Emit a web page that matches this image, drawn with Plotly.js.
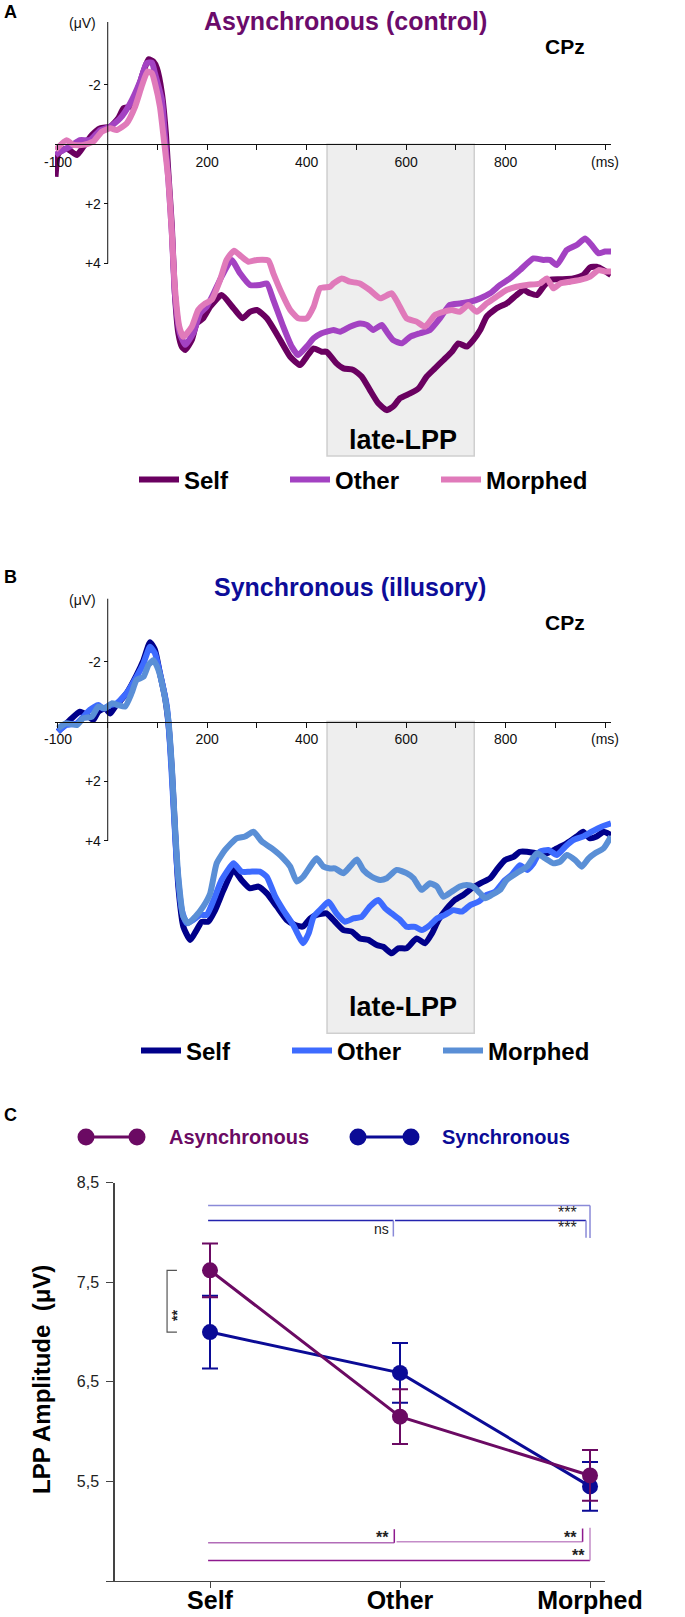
<!DOCTYPE html>
<html>
<head>
<meta charset="utf-8">
<script src="https://cdn.plot.ly/plotly-3.0.1.min.js"></script>
<style>
  html, body { margin: 0; padding: 0; background: #fff; }
  #chart { width: 685px; height: 1617px; }
</style>
</head>
<body>
<div id="chart"></div>
<script>
// ==================== DATA ====================

// Panel A - Asynchronous (control), CPz. Time in ms, amplitude in µV (negative up)
const asyncSelfT = [-105, -99, -83, -62, -49, -32, -15, 5, 21, 32, 45, 62, 72, 82, 92, 99, 109, 117, 122, 129, 135, 142, 149, 156, 169, 179, 192, 206, 229, 253, 271, 286, 300, 320, 347, 367, 387, 400, 414, 430, 440, 460, 474, 494, 511, 527, 544, 561, 574, 588, 608, 625, 641, 658, 675, 692, 705, 722, 735, 749, 762, 782, 802, 822, 836, 849, 863, 876, 889, 910, 936, 956, 970, 983, 997, 1012];
const asyncSelfV = [1.09, 0.30, 0.14, 0.36, 0.08, -0.31, -0.54, -0.59, -0.87, -1.21, -1.26, -1.93, -2.44, -2.85, -2.77, -2.55, -1.71, -0.37, 0.97, 2.76, 5.00, 6.34, 6.79, 6.90, 6.57, 6.01, 5.84, 5.45, 5.06, 5.50, 5.84, 5.62, 5.56, 5.84, 6.57, 7.13, 7.41, 7.13, 6.85, 6.96, 6.96, 7.35, 7.52, 7.57, 7.80, 8.24, 8.69, 8.92, 8.80, 8.52, 8.36, 8.19, 7.80, 7.52, 7.24, 6.96, 6.68, 6.79, 6.57, 6.23, 5.78, 5.50, 5.34, 5.06, 4.89, 5.00, 5.06, 4.78, 4.55, 4.53, 4.50, 4.39, 4.13, 4.11, 4.22, 4.39];

const asyncOtherT = [-105, -96, -76, -56, -36, -15, 5, 25, 45, 65, 78, 89, 95, 109, 115, 122, 129, 135, 145, 156, 172, 186, 199, 213, 229, 249, 266, 286, 306, 320, 333, 353, 370, 383, 400, 414, 430, 440, 454, 467, 487, 507, 521, 534, 551, 561, 574, 591, 608, 628, 648, 668, 688, 708, 729, 749, 769, 789, 809, 829, 856, 876, 889, 903, 923, 943, 960, 973, 987, 1000, 1012];
const asyncOtherV = [0.36, 0.25, 0.08, -0.14, -0.14, -0.48, -0.59, -0.87, -1.37, -2.10, -2.72, -2.74, -2.38, -1.49, -0.26, 1.20, 2.99, 5.00, 6.34, 6.73, 6.34, 5.67, 5.45, 5.00, 4.44, 3.88, 4.33, 4.72, 4.72, 4.67, 5.22, 6.12, 6.79, 7.07, 6.79, 6.51, 6.34, 6.29, 6.23, 6.29, 6.12, 6.01, 6.06, 6.23, 6.06, 6.29, 6.57, 6.68, 6.46, 6.34, 6.23, 5.84, 5.39, 5.34, 5.28, 5.17, 5.00, 4.72, 4.50, 4.22, 3.83, 3.88, 3.88, 4.05, 3.55, 3.38, 3.16, 3.38, 3.66, 3.60, 3.60];

const asyncMorphT = [-105, -83, -69, -49, -29, -12, 5, 18, 38, 55, 68, 80, 89, 95, 105, 113, 122, 129, 135, 144, 152, 169, 182, 196, 209, 226, 239, 254, 269, 283, 300, 323, 333, 350, 367, 383, 400, 414, 427, 447, 454, 471, 487, 507, 527, 548, 571, 584, 601, 621, 638, 658, 675, 692, 708, 725, 742, 762, 782, 802, 822, 843, 869, 883, 896, 910, 930, 950, 970, 987, 1000, 1012];
const asyncMorphV = [0.19, -0.14, 0.02, 0.02, -0.09, -0.42, -0.54, -0.48, -0.70, -1.26, -1.93, -2.44, -2.38, -2.05, -1.26, -0.14, 1.20, 2.99, 4.78, 6.12, 6.46, 6.12, 5.56, 5.34, 5.22, 4.55, 3.88, 3.57, 3.77, 3.94, 3.88, 3.90, 4.33, 5.00, 5.56, 5.84, 5.84, 5.45, 4.83, 4.78, 4.67, 4.50, 4.61, 4.67, 4.89, 5.17, 5.00, 5.34, 5.84, 5.95, 6.12, 5.73, 5.62, 5.56, 5.62, 5.39, 5.62, 5.34, 5.11, 4.89, 4.78, 4.72, 4.67, 4.50, 4.83, 4.67, 4.61, 4.55, 4.44, 4.22, 4.27, 4.27];

// Panel B - Synchronous (illusory), CPz
const syncSelfT = [-100, -76, -56, -42, -29, -19, -5, 5, 15, 38, 58, 72, 85, 95, 105, 115, 122, 129, 135, 142, 152, 166, 179, 189, 202, 216, 233, 253, 269, 286, 303, 320, 340, 360, 377, 393, 407, 420, 440, 457, 474, 491, 507, 524, 541, 554, 571, 584, 601, 621, 638, 652, 665, 682, 698, 715, 732, 749, 769, 782, 799, 816, 829, 843, 863, 883, 903, 923, 943, 956, 970, 983, 997, 1012];
const syncSelfV = [0.34, -0.05, -0.33, -0.22, -0.05, -0.33, -0.44, -0.27, -0.50, -0.95, -1.56, -2.06, -2.66, -2.40, -1.62, -0.83, 0.06, 1.63, 3.53, 5.54, 6.88, 7.33, 6.99, 6.72, 6.72, 6.33, 5.65, 4.98, 5.32, 5.60, 5.54, 5.77, 6.21, 6.66, 6.83, 6.88, 6.61, 6.49, 6.44, 6.72, 7.00, 7.05, 7.28, 7.33, 7.50, 7.56, 7.78, 7.61, 7.61, 7.28, 7.44, 7.11, 6.66, 6.27, 5.99, 5.82, 5.60, 5.43, 5.26, 4.98, 4.65, 4.54, 4.37, 4.37, 4.42, 4.42, 4.26, 4.09, 3.86, 3.70, 3.92, 3.86, 3.70, 3.81];

const syncOtherT = [-100, -83, -62, -49, -36, -19, -9, 5, 18, 38, 58, 72, 85, 95, 105, 119, 125, 132, 139, 149, 159, 172, 186, 199, 213, 229, 253, 269, 286, 306, 320, 337, 353, 373, 383, 393, 404, 414, 430, 444, 460, 477, 494, 511, 527, 544, 558, 571, 588, 601, 618, 631, 648, 662, 678, 695, 712, 729, 745, 762, 779, 796, 812, 829, 843, 856, 869, 886, 903, 920, 936, 956, 973, 993, 1012];
const syncOtherV = [0.34, 0.12, 0.06, -0.16, -0.39, -0.55, -0.44, -0.55, -0.61, -0.95, -1.50, -1.95, -2.51, -2.29, -1.62, -0.50, 0.73, 2.75, 4.76, 6.33, 6.77, 6.66, 6.49, 6.49, 5.99, 5.32, 4.76, 5.04, 5.04, 5.04, 5.21, 5.88, 6.33, 6.83, 7.16, 7.44, 7.11, 6.55, 6.27, 6.05, 6.44, 6.72, 6.61, 6.55, 6.21, 5.99, 6.27, 6.44, 6.66, 6.89, 6.89, 7.00, 6.83, 6.61, 6.49, 6.33, 6.38, 6.16, 6.05, 5.82, 5.71, 5.37, 5.15, 4.82, 4.98, 4.76, 4.37, 4.31, 4.48, 4.20, 3.98, 3.86, 3.70, 3.53, 3.42];

const syncMorphT = [-100, -83, -62, -49, -32, -19, -5, 8, 21, 35, 48, 58, 72, 82, 92, 102, 112, 122, 129, 135, 142, 152, 162, 176, 192, 206, 219, 236, 259, 276, 293, 310, 330, 353, 367, 380, 393, 407, 420, 434, 447, 457, 474, 487, 501, 514, 531, 548, 561, 581, 601, 615, 631, 648, 662, 675, 692, 708, 722, 735, 749, 759, 772, 789, 802, 822, 843, 863, 879, 896, 910, 923, 940, 953, 967, 980, 997, 1012];
const syncMorphV = [0.23, 0.06, 0.12, -0.11, -0.16, -0.50, -0.44, -0.61, -0.55, -0.50, -0.95, -1.39, -1.50, -1.90, -2.06, -1.73, -1.06, -0.05, 1.52, 3.42, 5.21, 6.55, 6.77, 6.55, 6.21, 5.77, 4.76, 4.31, 3.92, 3.86, 3.70, 4.03, 4.26, 4.59, 4.87, 5.37, 5.21, 4.87, 4.59, 4.87, 4.93, 4.93, 5.09, 4.87, 4.63, 4.98, 5.21, 5.32, 5.26, 4.98, 5.09, 5.26, 5.65, 5.43, 5.54, 5.88, 5.71, 5.54, 5.49, 5.54, 5.77, 5.93, 5.82, 5.65, 5.32, 5.09, 4.87, 4.42, 4.59, 4.76, 4.70, 4.48, 4.65, 4.87, 4.59, 4.42, 4.26, 3.86];

// late-LPP window (ms)
const lppWindow = [441, 737];

// ERP axis ticks
const erpTickVals = [-100, 0, 100, 200, 300, 400, 500, 600, 700, 800, 900, 1000];
const erpTickText = ['-100', '', '', '200', '', '400', '', '600', '', '800', '', '(ms)'];
const ampTickVals = [-2, 2, 4];
const ampTickText = ['-2', '+2', '+4'];

// Panel C - mean LPP amplitude (µV) with error bars
const conditions = ['Self', 'Other', 'Morphed'];
const asyncLpp = [7.62, 6.15, 5.56];
const asyncErr = [0.27, 0.275, 0.255];
const syncLpp = [7.00, 6.59, 5.45];
const syncErr = [0.365, 0.30, 0.245];
const lppTickVals = [4.5, 5.5, 6.5, 7.5, 8.5];
const lppTickText = ['', '5,5', '6,5', '7,5', '8,5'];

// ==================== COLOURS / HELPERS ====================

const FONT = 'Liberation Sans, Arial, sans-serif';
const W = 685, H = 1617;
const px = p => p / W;          // pixel -> paper x
const py = p => 1 - p / H;      // pixel -> paper y

const colAsync = { self: '#6A0060', other: '#A342C2', morph: '#E07ABA' };
const colSync = { self: '#00008A', other: '#3D6BFF', morph: '#5A8FD6' };
const purple = '#6B0A63';
const navy = '#0B0B96';

// ERP panel geometry (pixels)
const erpLeft = 55, erpRight = 611, erpRange = [-106, 1012];
const pxPerUv = 29.8;
const zeroX = erpLeft + (0 - erpRange[0]) * (erpRight - erpLeft) / (erpRange[1] - erpRange[0]);

function erpTrace(t, v, name, color, xa, ya, legend) {
  return {
    type: 'scatter', mode: 'lines', x: t, y: v, name: '<b>' + name + '</b>',
    xaxis: xa, yaxis: ya, legend: legend,
    line: { color: color, width: 6, shape: 'spline', smoothing: 0.5 },
    hoverinfo: 'skip'
  };
}

function erpXAxis(zeroPx) {
  return {
    domain: [px(erpLeft), px(erpRight)], range: erpRange,
    anchor: 'free', position: py(zeroPx),
    showline: true, linecolor: '#111', linewidth: 1,
    ticks: 'outside', ticklen: 5, tickcolor: '#111',
    tickvals: erpTickVals, ticktext: erpTickText,
    tickfont: { family: FONT, size: 14, color: '#111' },
    showgrid: false, zeroline: false, fixedrange: true
  };
}

function erpYAxis(topPx, bottomPx, zeroPx) {
  return {
    domain: [py(bottomPx), py(topPx)],
    range: [(bottomPx - zeroPx) / pxPerUv, (topPx - zeroPx) / pxPerUv],
    anchor: 'free', position: px(zeroX),
    showline: false, ticks: 'outside', ticklen: 4, tickcolor: '#111',
    tickvals: ampTickVals, ticktext: ampTickText,
    tickfont: { family: FONT, size: 14, color: '#111' },
    showgrid: false, zeroline: false, fixedrange: true
  };
}

function erpLegend(xPx, yPx) {
  return {
    x: px(xPx), y: py(yPx), xanchor: 'left', yanchor: 'middle',
    orientation: 'h', bgcolor: 'rgba(0,0,0,0)',
    itemwidth: 40, entrywidth: 96, entrywidthmode: 'pixels',
    font: { family: FONT, size: 24, color: '#000' }
  };
}

function text(str, xPx, yPx, size, color, opts) {
  return Object.assign({
    text: str, x: px(xPx), y: py(yPx), xref: 'paper', yref: 'paper',
    showarrow: false, xanchor: 'center', yanchor: 'middle',
    font: { family: FONT, size: size, color: color }
  }, opts || {});
}

// ==================== TRACES ====================

const data = [
  erpTrace(asyncSelfT, asyncSelfV, 'Self', colAsync.self, 'x', 'y', 'legend'),
  erpTrace(asyncOtherT, asyncOtherV, 'Other', colAsync.other, 'x', 'y', 'legend'),
  erpTrace(asyncMorphT, asyncMorphV, 'Morphed', colAsync.morph, 'x', 'y', 'legend'),
  erpTrace(syncSelfT, syncSelfV, 'Self', colSync.self, 'x2', 'y2', 'legend2'),
  erpTrace(syncOtherT, syncOtherV, 'Other', colSync.other, 'x2', 'y2', 'legend2'),
  erpTrace(syncMorphT, syncMorphV, 'Morphed', colSync.morph, 'x2', 'y2', 'legend2')
];

const condIdx = conditions.map((c, i) => i);
[[syncLpp, syncErr, navy, 'Synchronous'], [asyncLpp, asyncErr, purple, 'Asynchronous']].forEach(s => {
  data.push({
    type: 'scatter', mode: 'lines+markers', x: condIdx, y: s[0], name: s[3],
    xaxis: 'x3', yaxis: 'y3', showlegend: false, hoverinfo: 'skip',
    line: { color: s[2], width: 3 },
    marker: { color: s[2], size: 16 },
    error_y: { type: 'data', array: s[1], color: s[2], thickness: 2, width: 8 }
  });
});

// ==================== SHAPES ====================

const shapes = [];
[['x', 'y'], ['x2', 'y2']].forEach(a => {
  // late-LPP window
  shapes.push({ type: 'rect', xref: a[0], yref: a[1], x0: lppWindow[0], x1: lppWindow[1], y0: 0, y1: 10.46,
    fillcolor: '#EEEEEE', line: { color: '#CFCFCF', width: 1.5 }, layer: 'below' });
  // partial amplitude axis
  shapes.push({ type: 'line', xref: a[0], yref: a[1], x0: 0, x1: 0, y0: -4.12, y1: 4,
    line: { color: '#111', width: 1 } });
});

// Panel C significance brackets [x0, x1, y, yEnd, colour of bar, colour of drop]
const brackets = [
  [-0.01, 2.00, 8.27, 7.944, '#8A8AD8', '#8A8AD8'],
  [-0.01, 0.965, 8.12, 7.96, '#2323AE', '#8A8AD8'],
  [0.974, 1.979, 8.12, 7.947, '#2323AE', '#8A8AD8'],
  [-0.01, 0.970, 4.884, 5.02, '#B26CB8', '#8E1A8E'],
  [0.982, 1.961, 4.894, 5.027, '#C48CC8', '#8E1A8E'],
  [-0.01, 2.00, 4.707, 5.034, '#8E1A8E', '#C48CC8']
];
brackets.forEach(b => {
  shapes.push({ type: 'line', xref: 'x3', yref: 'y3', x0: b[0], x1: b[1], y0: b[2], y1: b[2], line: { color: b[4], width: 1.5 } });
  shapes.push({ type: 'line', xref: 'x3', yref: 'y3', x0: b[1], x1: b[1], y0: b[2], y1: b[3], line: { color: b[5], width: 1.5 } });
});
shapes.push({ type: 'path', xref: 'x3', yref: 'y3', path: 'M -0.174,7.62 L -0.226,7.62 L -0.226,7.00 L -0.174,7.00',
  line: { color: '#555', width: 1.2 } });

// Panel C legend (line with a dot at each end)
[[86, 137, purple], [358, 411, navy]].forEach(l => {
  shapes.push({ type: 'line', xref: 'paper', yref: 'paper', x0: px(l[0]), x1: px(l[1]), y0: py(1137), y1: py(1137),
    line: { color: l[2], width: 3 } });
  [l[0], l[1]].forEach(c => {
    shapes.push({ type: 'circle', xref: 'paper', yref: 'paper', x0: px(c - 8.5), x1: px(c + 8.5), y0: py(1145.5), y1: py(1128.5),
      fillcolor: l[2], line: { color: l[2], width: 0 } });
  });
});

// ==================== ANNOTATIONS ====================

const annotations = [
  text('<b>A</b>', 10, 12, 18, '#000'),
  text('<b>Asynchronous (control)</b>', 345, 21, 25, '#6B0B6B'),
  text('(μV)', 82, 23, 14, '#111'),
  text('<b>CPz</b>', 565, 46, 21, '#000'),
  text('<b>late-LPP</b>', 403, 440, 27, '#000'),

  text('<b>B</b>', 10, 577, 18, '#000'),
  text('<b>Synchronous (illusory)</b>', 350, 587, 25, '#0D0D99'),
  text('(μV)', 82, 600, 14, '#111'),
  text('<b>CPz</b>', 565, 622, 21, '#000'),
  text('<b>late-LPP</b>', 403, 1007, 27, '#000'),

  text('<b>C</b>', 10, 1115, 18, '#000'),
  text('<b>Asynchronous</b>', 167, 1137, 20, purple, { xanchor: 'left' }),
  text('<b>Synchronous</b>', 440, 1137, 20, navy, { xanchor: 'left' }),
  text('<b>LPP Amplitude\u00A0 (μV)</b>', 41, 1380, 24, '#000', { textangle: -90 })
];

function sig(str, x, y, size, extra) {
  return Object.assign({ text: str, x: x, y: y, xref: 'x3', yref: 'y3', showarrow: false,
    xanchor: 'center', yanchor: 'middle', font: { family: FONT, size: size, color: '#222' } }, extra || {});
}
annotations.push(
  sig('***', 1.884, 8.197, 16),
  sig('ns', 0.904, 8.037, 14),
  sig('***', 1.884, 8.054, 16),
  sig('<b>**</b>', 0.908, 4.937, 16),
  sig('<b>**</b>', 1.895, 4.937, 16),
  sig('<b>**</b>', 1.938, 4.76, 16),
  sig('<b>**</b>', -0.174, 7.172, 14, { textangle: -90 })
);

// ==================== LAYOUT ====================

const layout = {
  width: W, height: H,
  margin: { l: 0, r: 0, t: 0, b: 0 },
  paper_bgcolor: '#fff', plot_bgcolor: 'rgba(0,0,0,0)',
  font: { family: FONT, color: '#111' },
  xaxis: erpXAxis(144.3),
  yaxis: erpYAxis(22, 460, 144.3),
  xaxis2: erpXAxis(721.5),
  yaxis2: erpYAxis(598, 1040, 721.5),
  xaxis3: {
    domain: [px(114.5), px(605)], range: [-0.5026, 2.0789], anchor: 'y3',
    showline: true, linecolor: '#444', linewidth: 1.2,
    ticks: 'outside', ticklen: 6, tickcolor: '#444',
    tickvals: condIdx, ticktext: conditions.map(c => '<b>' + c + '</b>'),
    tickfont: { family: FONT, size: 25, color: '#000' }, ticklabelstandoff: -9,
    showgrid: false, zeroline: false, fixedrange: true
  },
  yaxis3: {
    domain: [py(1581), py(1182.7)], range: [4.5, 8.5], anchor: 'x3',
    showline: true, linecolor: '#444', linewidth: 1.2,
    ticks: 'outside', ticklen: 7, tickcolor: '#444',
    tickvals: lppTickVals, ticktext: lppTickText, ticklabelstandoff: 4,
    tickfont: { family: FONT, size: 16, color: '#222' },
    showgrid: false, zeroline: false, fixedrange: true
  },
  legend: erpLegend(134, 480),
  legend2: erpLegend(136, 1051),
  showlegend: true,
  shapes: shapes,
  annotations: annotations
};

Plotly.newPlot('chart', data, layout, { staticPlot: true, displayModeBar: false });
</script>
</body>
</html>
